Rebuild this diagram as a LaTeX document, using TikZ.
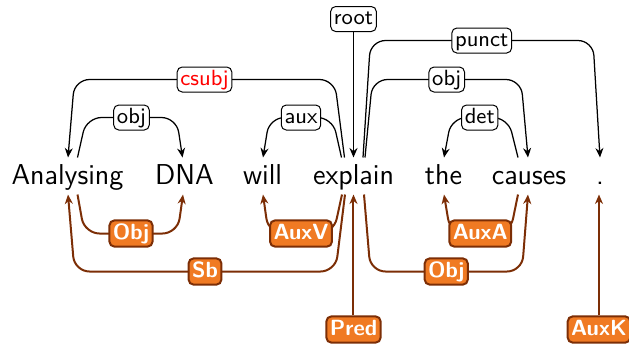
\documentclass[tikz,border=0pt]{standalone}
\usepackage{fontspec}
\usetikzlibrary{positioning, arrows.meta, calc}
\definecolor{tagfill}{RGB}{240,122,35}
\definecolor{tagline}{RGB}{124,46,6}
\tikzset{
    word/.style={font=\fontsize{11.5}{13}\selectfont\sffamily, anchor=base, inner xsep=1pt, inner ysep=1.7pt, text height=8.7pt, text depth=2.3pt},
    deplabel/.style={draw=black, fill=white, rounded corners=2pt, line width=0.4pt, font=\fontsize{8.8}{10}\selectfont\sffamily, inner xsep=1.3pt, inner ysep=1pt, text height=6.2pt, text depth=1.8pt},
    taglabel/.style={draw=tagline, fill=tagfill, rounded corners=2pt, line width=0.8pt, text=white, font=\fontsize{8.8}{10}\selectfont\sffamily\bfseries, inner xsep=1.4pt, inner ysep=1.2pt, text height=6.3pt, text depth=1.8pt},
    deparc/.style={-{Stealth[length=3.8pt, width=3.2pt]}, line width=0.5pt, rounded corners=6pt},
    tagarc/.style={-{Stealth[length=3.8pt, width=3.2pt]}, line width=0.8pt, draw=tagline, rounded corners=6pt}
}

\begin{document}
\begin{tikzpicture}[x=0.4pt, y=-0.4pt]
\useasboundingbox (0,0) rectangle (629,343);

% Words
\node[word] (analysing) at (67.5,184) {Analysing};
\node[word] (dna) at (184.5,184) {DNA};
\node[word] (will) at (262.5,184) {will};
\node[word] (explain) at (353.5,184) {explain};
\node[word] (the) at (443.5,184) {the};
\node[word] (causes) at (529,184) {causes};
\node[word] (dot) at (600,184) {.};

% Dependencies above
\node[deplabel] (root) at (353.5,19) {root};
\draw[deparc] (root) -- (root |- explain.north);
\draw[deparc] ($(analysing.north)+(10,0)$) -- ($(analysing.north)+(19,-40)$) -- node[deplabel] (l-obj1) {obj} ($(dna.north)+(-8,-40)$) -- ($(dna.north)+(-2,0)$);
\draw[deparc] ($(explain.north)+(-12,0)$) -- ($(explain.north)+(-21,-40)$) -- node[deplabel] (l-aux) {aux} ($(will.north)+(7,-40)$) -- ($(will.north)+(0.5,0)$);
\draw[deparc] ($(explain.north)+(-9,0)$) -- ($(explain.north)+(-19,-78)$) -- node[deplabel, text=red] (l-csubj) {csubj} ($(analysing.north)+(7,-78)$) -- ($(analysing.north)+(0.5,0)$);
\draw[deparc] ($(causes.north)+(-11,0)$) -- ($(causes.north)+(-21,-40)$) -- node[deplabel] (l-det) {det} ($(the.north)+(8,-40)$) -- ($(the.north)+(0.5,0)$);
\draw[deparc] ($(explain.north)+(11.5,0)$) -- ($(explain.north)+(19,-78)$) -- node[deplabel] (l-obj2) {obj} ($(causes.north)+(-8,-78)$) -- ($(causes.north)+(-1,0)$);
\draw[deparc] ($(explain.north)+(9.5,0)$) -- ($(explain.north)+(17,-117)$) -- node[deplabel] (l-punct) {punct} ($(dot.north)+(-7,-117)$) -- (dot.north);

% Tags below
\node[taglabel] (pred) at (353.5,329.5) {Pred};
\node[taglabel] (auxk) at (599,329.5) {AuxK};
\draw[tagarc] (pred) -- (pred |- explain.south);
\draw[tagarc] (auxk) -- (auxk |- dot.south);
\draw[tagarc] ($(analysing.south)+(10,0)$) -- ($(analysing.south)+(17,39)$) -- node[taglabel] (t-obj1) {Obj} ($(dna.south)+(-7,39)$) -- ($(dna.south)+(-1.5,0)$);
\draw[tagarc] ($(explain.south)+(-11.5,0)$) -- ($(explain.south)+(-20,39)$) -- node[taglabel] (t-auxv) {AuxV} ($(will.south)+(6,39)$) -- ($(will.south)+(0.5,0)$);
\draw[tagarc] ($(explain.south)+(-8.5,0)$) -- ($(explain.south)+(-18,77)$) -- node[taglabel] (t-sb) {Sb} ($(analysing.south)+(7,77)$) -- ($(analysing.south)+(0.5,0)$);
\draw[tagarc] ($(causes.south)+(-11,0)$) -- ($(causes.south)+(-19,39)$) -- node[taglabel] (t-auxa) {AuxA} ($(the.south)+(7,39)$) -- ($(the.south)+(0.5,0)$);
\draw[tagarc] ($(explain.south)+(10.5,0)$) -- ($(explain.south)+(17,77)$) -- node[taglabel] (t-obj2) {Obj} ($(causes.south)+(-7,77)$) -- ($(causes.south)+(-1,0)$);

\end{tikzpicture}
\end{document}
